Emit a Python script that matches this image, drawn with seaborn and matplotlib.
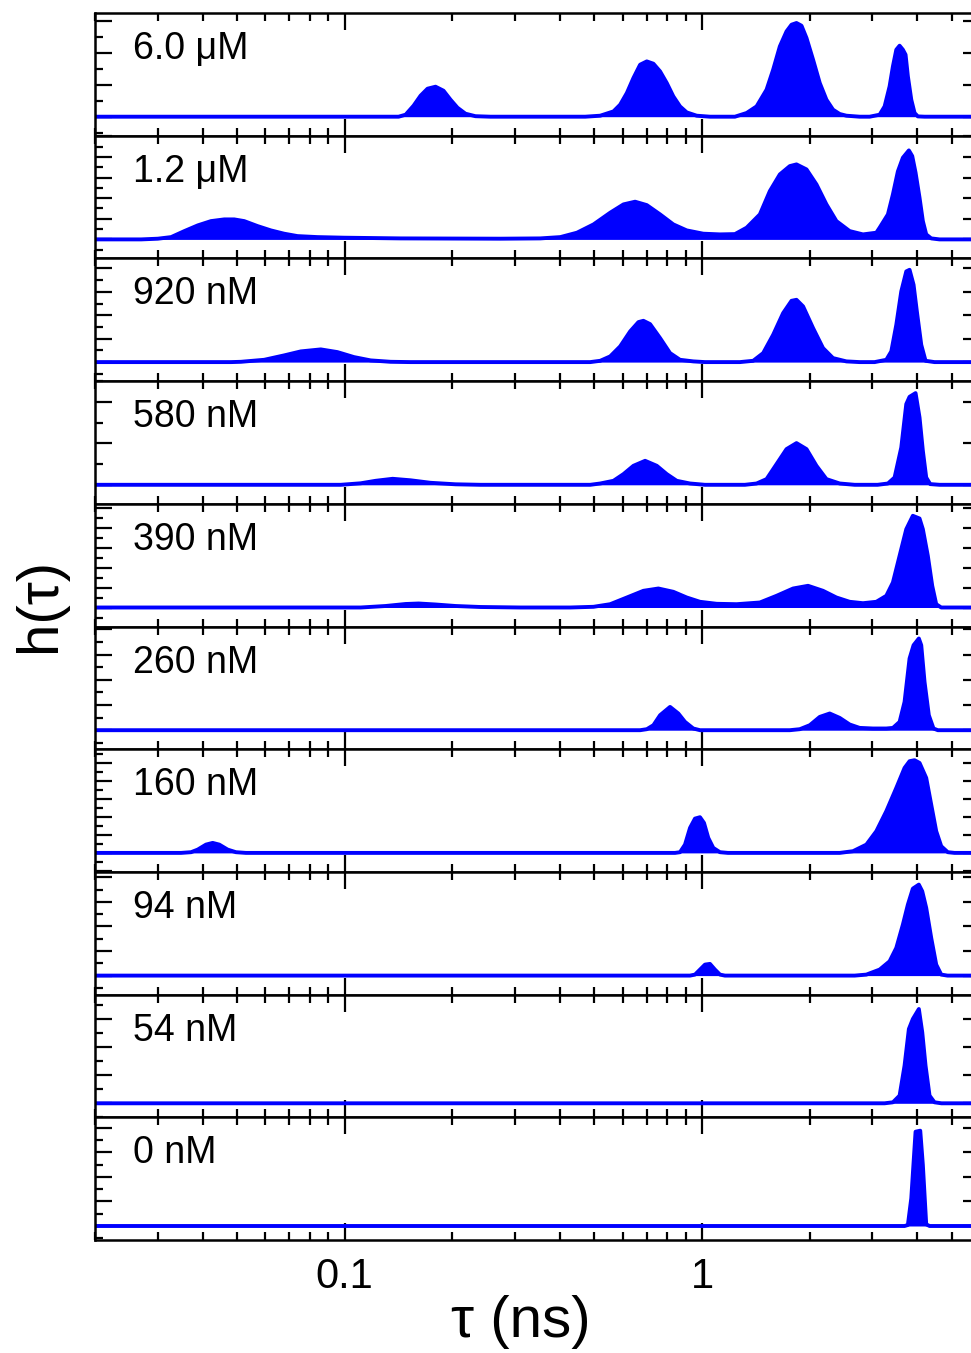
import numpy as np
import pandas as pd
import matplotlib
matplotlib.use("Agg")
import matplotlib.pyplot as plt
import seaborn as sns
from matplotlib.ticker import (FixedLocator, FixedFormatter, LogLocator,
                               NullFormatter, MultipleLocator)

# Concentration of each lifetime distribution, top panel first
conc_labels = ["6.0 \u03bcM", "1.2 \u03bcM", "920 nM", "580 nM", "390 nM",
               "260 nM", "160 nM", "94 nM", "54 nM", "0 nM"]

# Lifetime distributions h(tau): log10(tau / ns) and amplitude
lt_6000 = [-1.75,
           -0.8492, -0.8296, -0.8073, -0.7877, -0.7682, -0.7458, -0.7235, -0.7039, -0.6844, -0.6620, -0.6341, -0.5922,
           -0.3268, -0.2849, -0.2478, -0.2291, -0.2103, -0.1919, -0.1732, -0.1545, -0.1360, -0.1173, -0.0986, -0.0802,
           -0.0615, -0.0427, -0.0148, 0.0223,
           0.0922, 0.1249, 0.1528, 0.1807, 0.1992, 0.2179, 0.2366, 0.2506, 0.2645, 0.2785, 0.2925, 0.3109, 0.3296,
           0.3483, 0.3668, 0.3855, 0.4042, 0.4413,
           0.4693, 0.4972, 0.5112, 0.5251, 0.5344, 0.5439, 0.5531, 0.5623, 0.5698, 0.5763, 0.5858, 0.5950, 0.6042, 0.6229,
           0.80]
h_6000 = [0,
          0, 0.02, 0.11, 0.21, 0.28, 0.30, 0.26, 0.17, 0.09, 0.03, 0.005, 0,
          0, 0.01, 0.053, 0.12, 0.237, 0.387, 0.52, 0.553, 0.53, 0.453, 0.337, 0.203,
          0.103, 0.043, 0.01, 0,
          0, 0.037, 0.103, 0.27, 0.47, 0.703, 0.853, 0.92, 0.937, 0.91, 0.787, 0.57, 0.337,
          0.17, 0.07, 0.027, 0.01, 0,
          0, 0.02, 0.103, 0.303, 0.503, 0.67, 0.71, 0.67, 0.62, 0.403, 0.17, 0.037, 0.003, 0,
          0]

lt_1200 = [-1.75,
           -1.5698, -1.5232, -1.4860, -1.4489, -1.4115, -1.3743, -1.3372, -1.3092, -1.2813, -1.2439, -1.2067, -1.1696,
           -1.1321, -1.0763, -1.0020, -0.8436, -0.5642, -0.4525,
           -0.3966, -0.3500, -0.3036, -0.2570, -0.2198, -0.1872, -0.1545, -0.1173, -0.0802, -0.0427, 0.0036, 0.0503, 0.0922,
           0.1249, 0.1620, 0.1899, 0.2179, 0.2458, 0.2645, 0.2925, 0.3204, 0.3483, 0.3763, 0.4134, 0.4506, 0.4880,
           0.4972, 0.5204, 0.5344, 0.5483, 0.5623, 0.5791, 0.5885, 0.5978, 0.6089, 0.6182, 0.6276, 0.6416, 0.6648,
           0.80]
h_1200 = [0,
          0, 0.007, 0.023, 0.083, 0.14, 0.183, 0.20, 0.20, 0.183, 0.133, 0.09, 0.057,
          0.033, 0.023, 0.017, 0.01, 0.007, 0.01,
          0.023, 0.067, 0.15, 0.267, 0.35, 0.377, 0.343, 0.25, 0.15, 0.09, 0.057, 0.05, 0.053,
          0.117, 0.25, 0.483, 0.65, 0.733, 0.75, 0.70, 0.55, 0.35, 0.183, 0.083, 0.05, 0.067,
          0.117, 0.25, 0.45, 0.68, 0.817, 0.89, 0.833, 0.667, 0.417, 0.183, 0.05, 0.01, 0,
          0]

lt_920 = [-1.75,
          -1.3184, -1.2905, -1.2254, -1.1696, -1.1229, -1.0670, -1.0204, -0.9740, -0.9274, -0.8715, -0.8156,
          -0.3128, -0.2849, -0.2570, -0.2291, -0.2011, -0.1779, -0.1640, -0.1453, -0.1173, -0.0894, -0.0615, -0.0243, 0.0084,
          0.1061, 0.1433, 0.1712, 0.1992, 0.2271, 0.2506, 0.2645, 0.2830, 0.3109, 0.3388, 0.3668, 0.4042, 0.4413,
          0.4832, 0.5159, 0.5299, 0.5439, 0.5578, 0.5718, 0.5810, 0.5922, 0.6014, 0.6137, 0.6257, 0.6508,
          0.80]
h_920 = [0,
         0, 0.003, 0.023, 0.067, 0.107, 0.127, 0.10, 0.05, 0.017, 0.003, 0,
         0, 0.013, 0.057, 0.157, 0.307, 0.40, 0.413, 0.38, 0.24, 0.09, 0.023, 0.007, 0,
         0, 0.013, 0.09, 0.273, 0.49, 0.613, 0.623, 0.557, 0.34, 0.14, 0.04, 0.007, 0,
         0, 0.023, 0.107, 0.373, 0.707, 0.907, 0.923, 0.773, 0.507, 0.173, 0.013, 0,
         0]

lt_580 = [-1.75,
          -1.0112, -0.9553, -0.9134, -0.8659, -0.8156, -0.7598, -0.6899, -0.6201,
          -0.3128, -0.2849, -0.2478, -0.2198, -0.1919, -0.1592, -0.1265, -0.0986, -0.0707, -0.0335, 0.0084,
          0.1201, 0.1528, 0.1807, 0.2087, 0.2366, 0.2645, 0.2925, 0.3204, 0.3483, 0.3855, 0.4274,
          0.4916, 0.5204, 0.5391, 0.5578, 0.5718, 0.5810, 0.5978, 0.6089, 0.6182, 0.6276, 0.6388, 0.6648,
          0.80]
h_580 = [0,
         0, 0.015, 0.04, 0.06, 0.045, 0.02, 0.005, 0,
         0, 0.013, 0.04, 0.107, 0.19, 0.24, 0.19, 0.107, 0.04, 0.013, 0,
         0, 0.013, 0.057, 0.207, 0.357, 0.417, 0.357, 0.19, 0.057, 0.013, 0,
         0, 0.013, 0.073, 0.373, 0.807, 0.88, 0.917, 0.673, 0.34, 0.073, 0.007, 0,
         0]

lt_390 = [-1.75,
          -0.9553, -0.8855, -0.8296, -0.7933, -0.7458, -0.6899, -0.6201, -0.5084,
          -0.3687, -0.3036, -0.2570, -0.2103, -0.1640, -0.1221, -0.0802, -0.0427, -0.0056, 0.0411, 0.0969,
          0.1620, 0.2087, 0.2550, 0.2969, 0.3388, 0.3763, 0.4134, 0.4506, 0.4880,
          0.5159, 0.5344, 0.5531, 0.5718, 0.5902, 0.6089, 0.6182, 0.6321, 0.6444, 0.6556, 0.6696,
          0.80]
h_390 = [0,
         0, 0.015, 0.035, 0.04, 0.03, 0.015, 0.005, 0,
         0, 0.007, 0.033, 0.10, 0.167, 0.19, 0.157, 0.10, 0.057, 0.037, 0.033,
         0.05, 0.117, 0.19, 0.217, 0.167, 0.10, 0.057, 0.043, 0.057,
         0.117, 0.25, 0.517, 0.783, 0.917, 0.89, 0.783, 0.517, 0.217, 0.033, 0,
         0]

lt_260 = [-1.75,
          -0.1732, -0.1545, -0.1360, -0.1173, -0.0894, -0.0662, -0.0475, -0.0243, -0.0056,
          0.2458, 0.2737, 0.3017, 0.3296, 0.3575, 0.3855, 0.4134, 0.4413, 0.4785, 0.5159,
          0.5344, 0.5531, 0.5670, 0.5810, 0.5922, 0.6070, 0.6137, 0.6229, 0.6349, 0.6480, 0.6601,
          0.80]
h_260 = [0,
         0, 0.01, 0.05, 0.15, 0.233, 0.167, 0.083, 0.017, 0,
         0, 0.01, 0.05, 0.133, 0.167, 0.123, 0.057, 0.023, 0.017, 0.017,
         0.023, 0.083, 0.283, 0.717, 0.85, 0.917, 0.85, 0.483, 0.15, 0.017, 0,
         0]

lt_160 = [-1.75,
          -1.4581, -1.4302, -1.4115, -1.3883, -1.3696, -1.3511, -1.3277, -1.3045, -1.2765,
          -0.0754, -0.0615, -0.0475, -0.0335, -0.0196, -0.0056, 0.0056, 0.0176, 0.0316, 0.0503, 0.0726,
          0.3855, 0.4226, 0.4601, 0.4880, 0.5159, 0.5439, 0.5670, 0.5810, 0.5950, 0.6089, 0.6276, 0.6416,
          0.6556, 0.6696, 0.6880, 0.7067,
          0.80]
h_160 = [0,
         0, 0.007, 0.033, 0.083, 0.10, 0.083, 0.033, 0.007, 0,
         0, 0.007, 0.083, 0.25, 0.343, 0.357, 0.30, 0.15, 0.05, 0.007, 0,
         0, 0.017, 0.083, 0.217, 0.417, 0.65, 0.85, 0.917, 0.927, 0.90, 0.75, 0.483,
         0.217, 0.067, 0.007, 0,
         0]

lt_94 = [-1.75,
         -0.0335, -0.0196, -0.0056, 0.0084, 0.0223, 0.0363, 0.0503, 0.0642,
         0.4274, 0.4601, 0.4972, 0.5251, 0.5439, 0.5623, 0.5763, 0.5902, 0.6070, 0.6165, 0.6276, 0.6416,
         0.6556, 0.6696, 0.6872,
         0.80]
h_94 = [0,
        0, 0.01, 0.06, 0.11, 0.117, 0.06, 0.01, 0,
        0, 0.01, 0.06, 0.143, 0.277, 0.51, 0.71, 0.87, 0.91, 0.843, 0.677, 0.377,
        0.11, 0.01, 0,
        0]

lt_54 = [-1.75,
         0.5112, 0.5344, 0.5531, 0.5670, 0.5791, 0.5902, 0.6070, 0.6165, 0.6257, 0.6369, 0.6508, 0.6704,
         0.80]
h_54 = [0,
        0, 0.01, 0.077, 0.377, 0.743, 0.843, 0.943, 0.71, 0.377, 0.077, 0.01, 0,
        0]

lt_0 = [-1.75,
        0.5670, 0.5763, 0.5858, 0.5978, 0.6109, 0.6182, 0.6276, 0.6369,
        0.80]
h_0 = [0,
       0, 0.01, 0.277, 0.943, 0.953, 0.61, 0.017, 0,
       0]

series = [(lt_6000, h_6000), (lt_1200, h_1200), (lt_920, h_920), (lt_580, h_580),
          (lt_390, h_390), (lt_260, h_260), (lt_160, h_160), (lt_94, h_94),
          (lt_54, h_54), (lt_0, h_0)]

# y tick spacing of each panel (minor step; majors every second step)
y_steps = [0.16, 0.103, 0.117, 0.207, 0.10, 0.126, 0.09, 0.123, 0.14, 0.123]
y_lows = [-0.19, -0.19, -0.19, -0.19, -0.19, -0.19, -0.19, -0.19, -0.14, -0.14]

sns.set_style("ticks")
plt.rcParams["font.family"] = ["Liberation Sans", "DejaVu Sans"]
for key in ("text.color", "axes.labelcolor", "xtick.color", "ytick.color",
            "axes.edgecolor"):
    plt.rcParams[key] = "black"

W, H = 971, 1353
fig = plt.figure(figsize=(W / 100, H / 100), dpi=100)

left_px, right_px = 95, 980
top_px, panel_px = 13, 122.7
blue = "#0000ff"

for i, ((lt, h), label) in enumerate(zip(series, conc_labels)):
    y0 = top_px + i * panel_px
    ax = fig.add_axes([left_px / W, 1 - (y0 + panel_px) / H,
                       (right_px - left_px) / W, panel_px / H])
    ax.set_xscale("log")
    df = pd.DataFrame({"tau": np.power(10.0, lt), "h": h})
    ax.fill_between(df["tau"], df["h"], 0, color=blue, lw=0)
    sns.lineplot(data=df, x="tau", y="h", ax=ax, color=blue, lw=2.8,
                 estimator=None, sort=True)
    ax.set_xlim(0.02, 6)
    ax.set_ylim(y_lows[i], y_lows[i] + 1.227)
    ax.set_xlabel("")
    ax.set_ylabel("")

    ax.xaxis.set_major_locator(FixedLocator([0.1, 1]))
    ax.xaxis.set_major_formatter(FixedFormatter(["0.1", "1"]))
    ax.xaxis.set_minor_locator(LogLocator(base=10, subs=np.arange(2, 10)))
    ax.xaxis.set_minor_formatter(NullFormatter())
    ax.yaxis.set_major_locator(MultipleLocator(2 * y_steps[i]))
    ax.yaxis.set_minor_locator(MultipleLocator(y_steps[i]))

    ax.tick_params(which="both", direction="in", top=True, bottom=True,
                   left=True, right=True, labelleft=False, width=1.6,
                   color="black")
    ax.tick_params(which="major", length=12)
    ax.tick_params(which="minor", length=6)
    ax.tick_params(axis="x", labelbottom=(i == len(series) - 1),
                   labelsize=30, pad=12, labelcolor="black")
    for sp in ax.spines.values():
        sp.set_linewidth(1.8)
        sp.set_color("black")

    ax.text(0.043, 0.625, label, transform=ax.transAxes, fontsize=27,
            ha="left", va="baseline", color="black")

fig.text(521 / W, 1 - 1322 / H, "\u03c4 (ns)", fontsize=42,
         ha="center", va="center", color="black")
fig.text(40 / W, 1 - 605 / H, "h(\u03c4)", fontsize=42, rotation=90,
         ha="center", va="center", color="black")

fig.savefig("out.png", dpi=100)
